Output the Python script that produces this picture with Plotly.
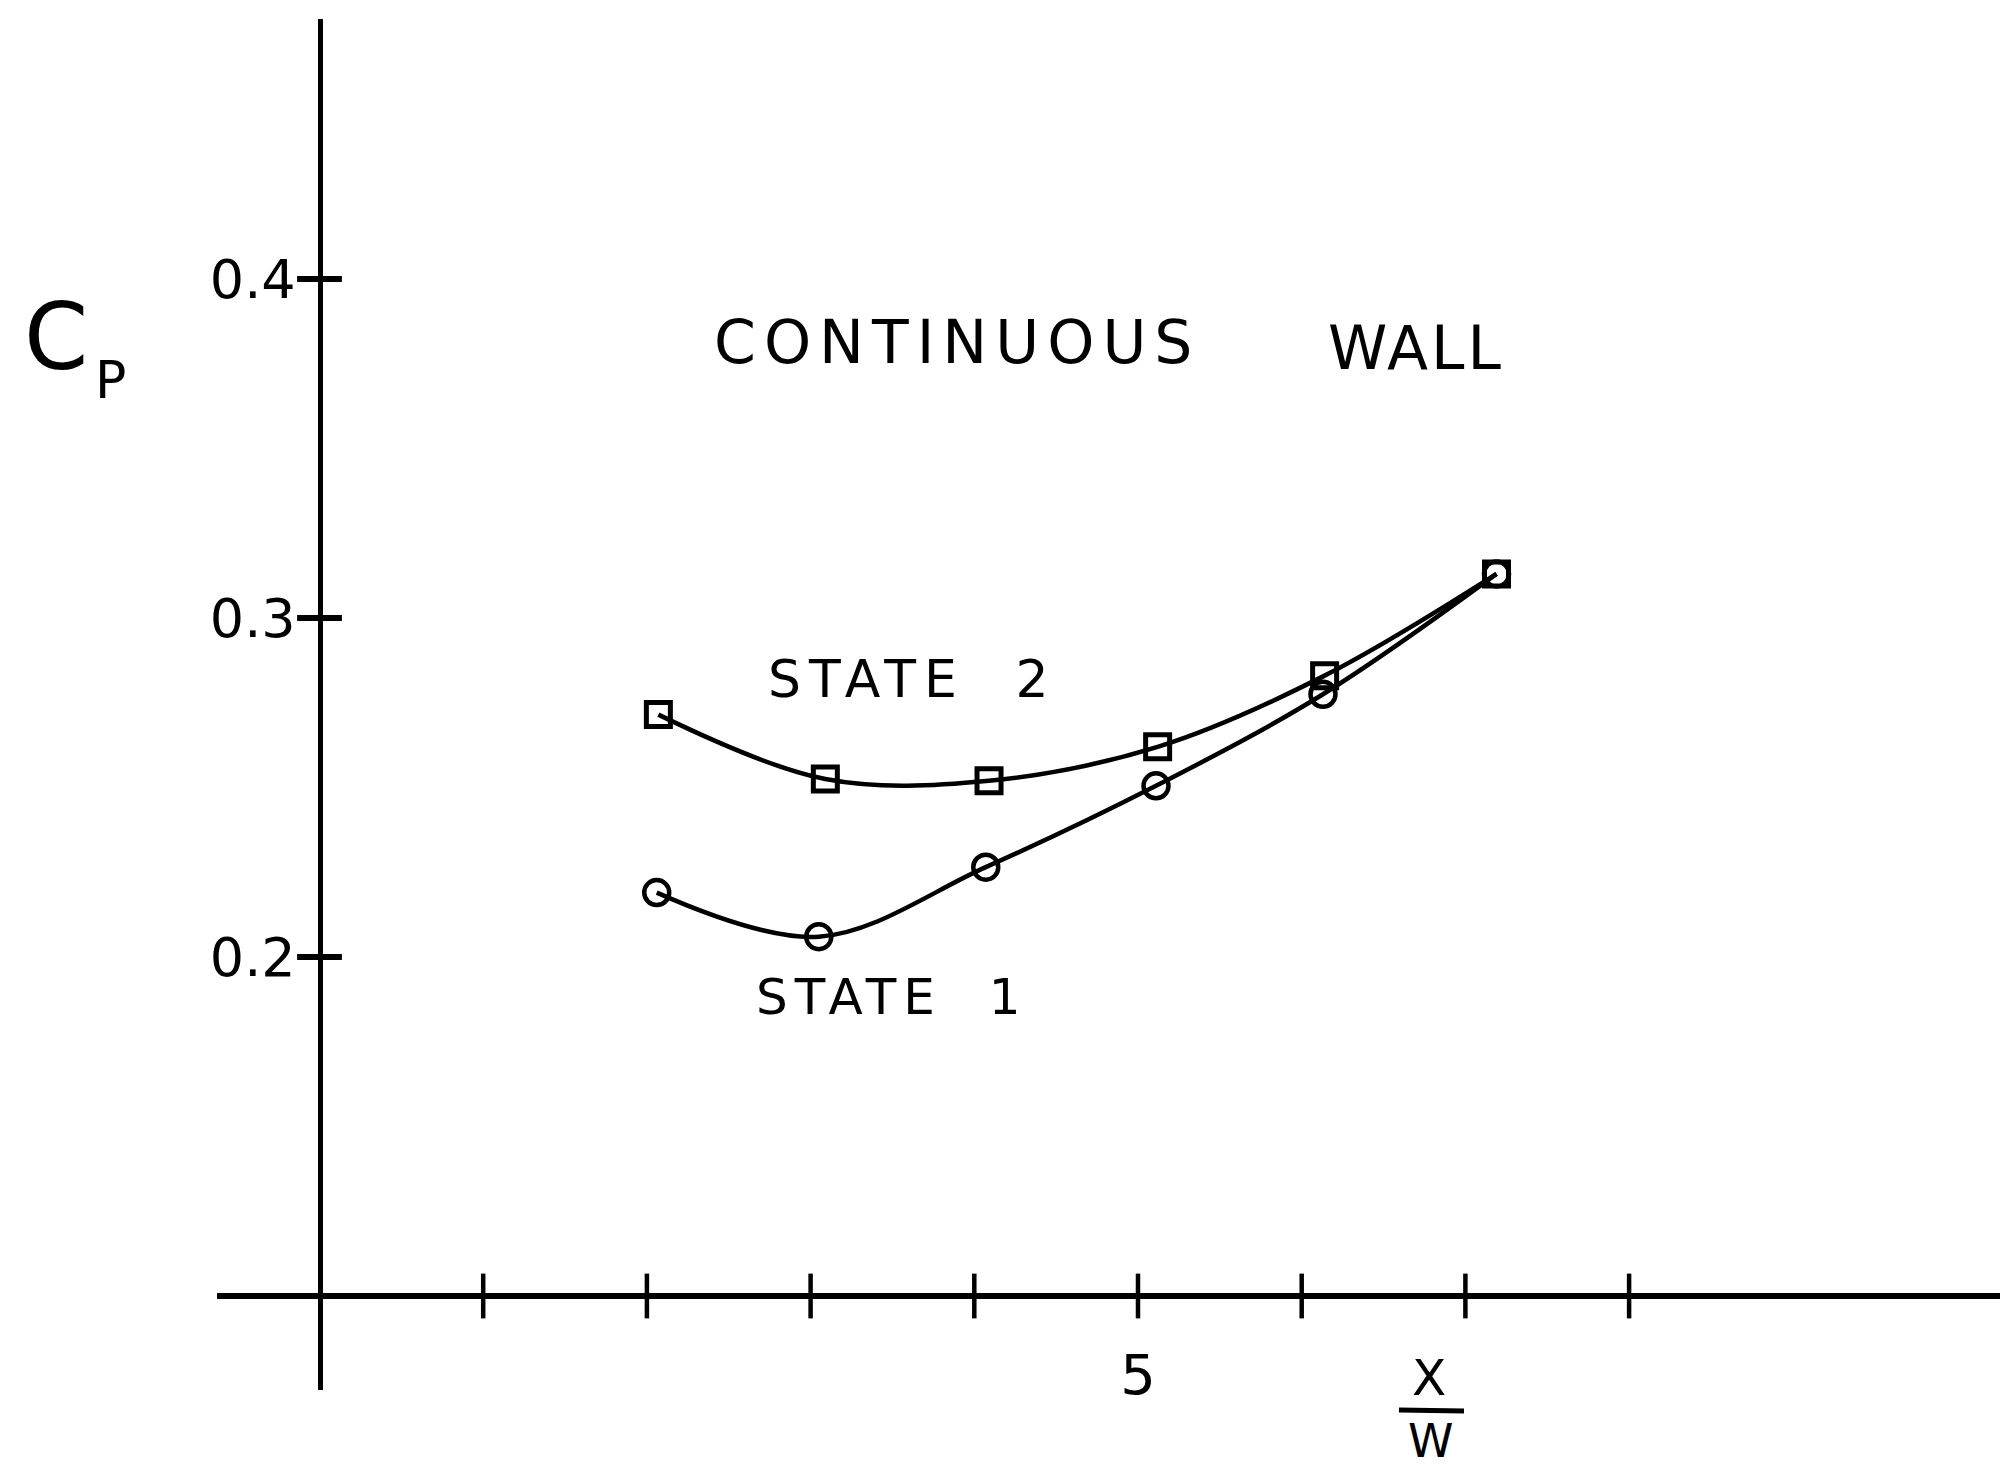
import plotly.graph_objects as go

# ---------------- data ----------------
x_state1 = [2.06, 3.05, 4.07, 5.11, 6.13, 7.19]
cp_state1 = [0.219, 0.206, 0.2265, 0.2505, 0.2775, 0.313]

x_state2 = [2.07, 3.09, 4.09, 5.12, 6.14, 7.19]
cp_state2 = [0.2715, 0.2525, 0.252, 0.262, 0.283, 0.313]

x_tick_marks = [1, 2, 3, 4, 5, 6, 7, 8]
x_tick_label_vals = [5]
x_tick_label_text = ["5"]
y_tick_vals = [0.2, 0.3, 0.4]
y_tick_text = ["0.2", "0.3", "0.4"]
x_axis_level = 0.1   # Cp value where the X axis crosses the Cp axis
y_axis_level = 0.0   # X/W value where the Cp axis stands

# ---------------- page geometry (pixels) ----------------
W, H = 2000, 1474
X0_PX, X_UNIT_PX = 319.5, 163.7          # x=0 position, px per unit
Y_REF_VAL, Y_REF_PX, Y_UNIT_PX = 0.2, 957.0, 3390.0
X_LINE_LEFT_PX = 217
Y_LINE_TOP_PX, Y_LINE_BOTTOM_PX = 19, 1390


def xval(px):
    return (px - X0_PX) / X_UNIT_PX


def yval(py):
    return Y_REF_VAL + (Y_REF_PX - py) / Y_UNIT_PX


def ypx(v):
    return Y_REF_PX - (v - Y_REF_VAL) * Y_UNIT_PX


FONT = "DejaVu Sans"
INK = "black"

fig = go.Figure()

# curves + markers
fig.add_trace(go.Scatter(
    x=x_state2, y=cp_state2, mode="lines+markers", name="STATE 2",
    line=dict(color=INK, width=4.5, shape="spline", smoothing=1.0),
    marker=dict(symbol="square-open", size=24, color=INK, line=dict(width=5, color=INK)),
    showlegend=False,
))
fig.add_trace(go.Scatter(
    x=x_state1, y=cp_state1, mode="lines+markers", name="STATE 1",
    line=dict(color=INK, width=4.5, shape="spline", smoothing=1.0),
    marker=dict(symbol="circle-open", size=25, color=INK, line=dict(width=4.5, color=INK)),
    showlegend=False,
))

# crossing tick marks on both axes
fig.add_trace(go.Scatter(
    x=x_tick_marks, y=[x_axis_level] * len(x_tick_marks), mode="markers",
    marker=dict(symbol="line-ns", size=32, line=dict(width=4.5, color=INK)),
    hoverinfo="skip", showlegend=False,
))
fig.add_trace(go.Scatter(
    x=[y_axis_level] * len(y_tick_vals), y=y_tick_vals, mode="markers",
    marker=dict(symbol="line-ew", size=32, line=dict(width=6, color=INK)),
    hoverinfo="skip", showlegend=False,
))

x_dom = [X_LINE_LEFT_PX / W, 1.0]
y_dom = [(H - Y_LINE_BOTTOM_PX) / H, (H - Y_LINE_TOP_PX) / H]

fig.update_layout(
    width=W, height=H,
    margin=dict(l=0, r=0, t=0, b=0),
    paper_bgcolor="white", plot_bgcolor="white",
    font=dict(family=FONT, color=INK),
    xaxis=dict(
        domain=x_dom, range=[xval(X_LINE_LEFT_PX), xval(W)],
        anchor="free", position=(H - ypx(x_axis_level)) / H,
        showgrid=False, zeroline=False,
        showline=True, linecolor=INK, linewidth=6,
        tickmode="array", tickvals=x_tick_label_vals, ticktext=x_tick_label_text,
        ticks="", ticklabelstandoff=28,
        tickfont=dict(family=FONT, size=56, color=INK),
    ),
    yaxis=dict(
        domain=y_dom, range=[yval(Y_LINE_BOTTOM_PX), yval(Y_LINE_TOP_PX)],
        anchor="free", position=X0_PX / W,
        showgrid=False, zeroline=False,
        showline=True, linecolor=INK, linewidth=5,
        tickmode="array", tickvals=y_tick_vals, ticktext=y_tick_text,
        ticks="", ticklabelstandoff=11,
        tickfont=dict(family=FONT, size=54, color=INK),
    ),
)


def sp(txt, ls, ws=None):
    style = f"letter-spacing:{ls}px"
    if ws is not None:
        style += f";word-spacing:{ws}px"
    return f'<span style="{style}">{txt}</span>'


annotations = [
    # text inside the plot
    dict(x=xval(712), y=yval(342), xref="x", yref="y", xanchor="left", yanchor="middle",
         text=sp("CONTINUOUS", 8), font=dict(size=60)),
    dict(x=xval(1326), y=yval(348), xref="x", yref="y", xanchor="left", yanchor="middle",
         text=sp("WALL", 3), font=dict(size=60)),
    # series labels
    dict(x=xval(766), y=yval(679), xref="x", yref="y", xanchor="left", yanchor="middle",
         text=sp("STATE 2", 8, 26), font=dict(size=52)),
    dict(x=xval(754), y=yval(997), xref="x", yref="y", xanchor="left", yanchor="middle",
         text=sp("STATE 1", 7, 24), font=dict(size=50)),
    # Cp axis label
    dict(x=56 / W, y=(H - 337) / H, xref="paper", yref="paper", xanchor="center", yanchor="middle",
         text="C", font=dict(size=92)),
    dict(x=110 / W, y=(H - 380) / H, xref="paper", yref="paper", xanchor="center", yanchor="middle",
         text="P", font=dict(size=52)),
    # X/W axis label
    dict(x=1429 / W, y=(H - 1378) / H, xref="paper", yref="paper", xanchor="center", yanchor="middle",
         text="X", font=dict(size=50)),
    dict(x=1430 / W, y=(H - 1441) / H, xref="paper", yref="paper", xanchor="center", yanchor="middle",
         text="W", font=dict(size=46)),
]
for a in annotations:
    a["showarrow"] = False
    a["font"]["family"] = FONT
    a["font"]["color"] = INK
fig.update_layout(annotations=annotations)

# fraction bar of X/W
fig.add_shape(type="line", xref="paper", yref="paper",
              x0=1399 / W, x1=1464 / W, y0=(H - 1410) / H, y1=(H - 1411) / H,
              line=dict(color=INK, width=5))

fig.write_html("out.html", config={"displayModeBar": False},
               post_script="document.body.style.margin='0px';")
